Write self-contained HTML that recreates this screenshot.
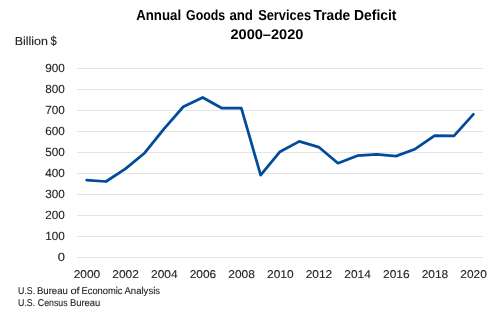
<!DOCTYPE html>
<html><head><meta charset="utf-8"><style>
html,body{margin:0;padding:0;background:#fff;overflow:hidden;}
svg{display:block;will-change:transform;text-rendering:geometricPrecision;}
text{font-family:"Liberation Sans",sans-serif;}
</style></head><body>
<svg width="502" height="326" viewBox="0 0 502 326">
<rect width="502" height="326" fill="#fff"/>
<text x="136.22" y="19.7" font-size="14.5" font-weight="bold" fill="#000" textLength="44.85" lengthAdjust="spacingAndGlyphs">Annual</text><text x="186.03" y="19.7" font-size="14.5" font-weight="bold" fill="#000" textLength="39.12" lengthAdjust="spacingAndGlyphs">Goods</text><text x="229.38" y="19.7" font-size="14.5" font-weight="bold" fill="#000" textLength="23.61" lengthAdjust="spacingAndGlyphs">and</text><text x="258.16" y="19.7" font-size="14.5" font-weight="bold" fill="#000" textLength="52.88" lengthAdjust="spacingAndGlyphs">Services</text><text x="313.6" y="19.7" font-size="14.5" font-weight="bold" fill="#000" textLength="36.62" lengthAdjust="spacingAndGlyphs">Trade</text><text x="354.1" y="19.7" font-size="14.5" font-weight="bold" fill="#000" textLength="42.39" lengthAdjust="spacingAndGlyphs">Deficit</text>
<text x="230.41" y="38.8" font-size="14" font-weight="bold" fill="#000" textLength="72.99" lengthAdjust="spacingAndGlyphs">2000–2020</text>
<text x="14.7" y="44.6" font-size="11.6" font-weight="normal" fill="#222222" stroke="#222222" stroke-width="0.1" textLength="33.19" lengthAdjust="spacingAndGlyphs">Billion</text><text x="50.61" y="44.6" font-size="12.6" font-weight="normal" fill="#222222" stroke="#222222" stroke-width="0.1" textLength="6.25" lengthAdjust="spacingAndGlyphs">$</text>
<g stroke="#E3E3E3" stroke-width="1"><line x1="77" x2="483" y1="257.5" y2="257.5"/><line x1="77" x2="483" y1="236.5" y2="236.5"/><line x1="77" x2="483" y1="215.5" y2="215.5"/><line x1="77" x2="483" y1="194.5" y2="194.5"/><line x1="77" x2="483" y1="173.5" y2="173.5"/><line x1="77" x2="483" y1="152.5" y2="152.5"/><line x1="77" x2="483" y1="131.5" y2="131.5"/><line x1="77" x2="483" y1="110.5" y2="110.5"/><line x1="77" x2="483" y1="89.5" y2="89.5"/><line x1="77" x2="483" y1="68.5" y2="68.5"/></g>
<g font-size="11.8" fill="#222222" stroke="#222222" stroke-width="0.1" text-anchor="end"><text x="64.9" y="261.35" textLength="7.2" lengthAdjust="spacingAndGlyphs">0</text><text x="64.9" y="240.35" textLength="19.6" lengthAdjust="spacingAndGlyphs">100</text><text x="64.9" y="219.35" textLength="19.6" lengthAdjust="spacingAndGlyphs">200</text><text x="64.9" y="198.35" textLength="19.6" lengthAdjust="spacingAndGlyphs">300</text><text x="64.9" y="177.35" textLength="19.6" lengthAdjust="spacingAndGlyphs">400</text><text x="64.9" y="156.35" textLength="19.6" lengthAdjust="spacingAndGlyphs">500</text><text x="64.9" y="135.35" textLength="19.6" lengthAdjust="spacingAndGlyphs">600</text><text x="64.9" y="114.35" textLength="19.6" lengthAdjust="spacingAndGlyphs">700</text><text x="64.9" y="93.35" textLength="19.6" lengthAdjust="spacingAndGlyphs">800</text><text x="64.9" y="72.35" textLength="19.6" lengthAdjust="spacingAndGlyphs">900</text></g>
<g font-size="11.3" fill="#222222" stroke="#222222" stroke-width="0.1"><text x="73.67" y="277.7" textLength="26.6" lengthAdjust="spacingAndGlyphs">2000</text><text x="112.33" y="277.7" textLength="26.6" lengthAdjust="spacingAndGlyphs">2002</text><text x="151.00" y="277.7" textLength="26.6" lengthAdjust="spacingAndGlyphs">2004</text><text x="189.67" y="277.7" textLength="26.6" lengthAdjust="spacingAndGlyphs">2006</text><text x="228.33" y="277.7" textLength="26.6" lengthAdjust="spacingAndGlyphs">2008</text><text x="267.00" y="277.7" textLength="26.6" lengthAdjust="spacingAndGlyphs">2010</text><text x="305.67" y="277.7" textLength="26.6" lengthAdjust="spacingAndGlyphs">2012</text><text x="344.33" y="277.7" textLength="26.6" lengthAdjust="spacingAndGlyphs">2014</text><text x="383.00" y="277.7" textLength="26.6" lengthAdjust="spacingAndGlyphs">2016</text><text x="421.67" y="277.7" textLength="26.6" lengthAdjust="spacingAndGlyphs">2018</text><text x="460.33" y="277.7" textLength="26.6" lengthAdjust="spacingAndGlyphs">2020</text></g>
<polyline points="86.67,180.03 106.00,181.50 125.33,168.90 144.67,152.94 164.00,128.79 183.33,106.74 202.67,97.50 222.00,108.21 241.33,108.21 260.67,175.20 280.00,151.68 299.33,141.39 318.67,147.06 338.00,163.23 357.33,155.67 376.67,154.41 396.00,156.09 415.33,148.95 434.67,135.72 454.00,135.93 473.33,114.30" fill="none" stroke="#004B9C" stroke-width="2.75" stroke-linejoin="round" stroke-linecap="round"/>
<text x="18.05" y="293.65" font-size="9.9" font-weight="normal" fill="#222222" stroke="#222222" stroke-width="0.1" textLength="17.08" lengthAdjust="spacingAndGlyphs">U.S.</text><text x="36.9" y="293.65" font-size="9.9" font-weight="normal" fill="#222222" stroke="#222222" stroke-width="0.1" textLength="31.04" lengthAdjust="spacingAndGlyphs">Bureau</text><text x="70.41" y="293.65" font-size="9.9" font-weight="normal" fill="#222222" stroke="#222222" stroke-width="0.1" textLength="9.21" lengthAdjust="spacingAndGlyphs">of</text><text x="81.5" y="293.65" font-size="9.9" font-weight="normal" fill="#222222" stroke="#222222" stroke-width="0.1" textLength="41.0" lengthAdjust="spacingAndGlyphs">Economic</text><text x="124.46" y="293.65" font-size="9.9" font-weight="normal" fill="#222222" stroke="#222222" stroke-width="0.1" textLength="35.64" lengthAdjust="spacingAndGlyphs">Analysis</text>
<text x="18.05" y="306.05" font-size="9.9" font-weight="normal" fill="#222222" stroke="#222222" stroke-width="0.1" textLength="17.08" lengthAdjust="spacingAndGlyphs">U.S.</text><text x="37.86" y="306.05" font-size="9.9" font-weight="normal" fill="#222222" stroke="#222222" stroke-width="0.1" textLength="29.79" lengthAdjust="spacingAndGlyphs">Census</text><text x="69.9" y="306.05" font-size="9.9" font-weight="normal" fill="#222222" stroke="#222222" stroke-width="0.1" textLength="30.41" lengthAdjust="spacingAndGlyphs">Bureau</text>
</svg>
</body></html>
